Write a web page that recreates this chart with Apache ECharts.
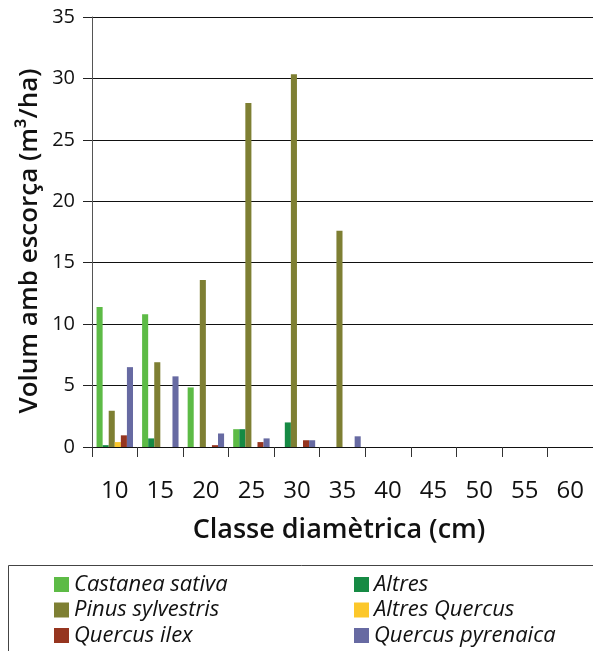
<!DOCTYPE html>
<html>
<head>
<meta charset="utf-8">
<script src="https://cdn.jsdelivr.net/npm/echarts@6/dist/echarts.min.js"></script>
<style>
html,body{margin:0;padding:0;background:#fff;}
#c{width:593px;height:651px;}
</style>
</head>
<body>
<div id="c"></div>
<script>
const categories = ['10','15','20','25','30','35','40','45','50','55','60'];
const castanea = [11.4, 10.8, 4.85, 1.45, 0, 0, 0, 0, 0, 0, 0];
const altres = [0.15, 0.7, 0, 1.45, 2.0, 0, 0, 0, 0, 0, 0];
const pinus = [2.95, 6.9, 13.6, 28.0, 30.35, 17.6, 0, 0, 0, 0, 0];
const altresQuercus = [0.4, 0, 0, 0, 0, 0, 0, 0, 0, 0, 0];
const quercusIlex = [0.95, 0, 0.15, 0.4, 0.55, 0, 0, 0, 0, 0, 0];
const quercusPyrenaica = [6.5, 5.75, 1.1, 0.7, 0.55, 0.87, 0, 0, 0, 0, 0];

const seriesNames = ['Castanea sativa','Altres','Pinus sylvestris','Altres Quercus','Quercus ilex','Quercus pyrenaica'];
const seriesData = [castanea, altres, pinus, altresQuercus, quercusIlex, quercusPyrenaica];
const colors = ['#5dbb46','#168a44','#7e7f33','#fcc72a','#96351f','#676aa2'];
const yTitle = 'Volum amb escorça (m³/ha)';
const xTitle = 'Classe diamètrica (cm)';

const FONT = '"Open Sans", "Noto Sans", sans-serif';
const chart = echarts.init(document.getElementById('c'), null, {renderer:'canvas'});

const legendText = {fontFamily: FONT, fontStyle:'italic', fontSize: 22, color:'#111', lineHeight: 22};
// legend placement: two columns, three rows (series index order: col = i%2, row = floor(i/2))
const legendCols = [54, 354];
const legendRowCenters = [584.5, 610, 635.5];
const legends = seriesNames.map((n, i) => ({
  data: [n], orient: 'horizontal',
  left: legendCols[i % 2], top: legendRowCenters[Math.floor(i / 2)] - 11,
  itemWidth: 15, itemHeight: 15, icon: 'rect', padding: 0,
  textStyle: legendText, selectedMode: false
}));

chart.setOption({
  animation: false,
  color: colors,
  grid: {left: 92, top: 17, right: -9, bottom: 204, containLabel: false},
  legend: legends,
  graphic: [
    {type:'rect', shape:{x:8.5, y:565.5, width:600, height:120}, style:{fill:'none', stroke:'#444', lineWidth:1}, silent:true},
    {type:'text', x:30, y:241, rotation: Math.PI/2, style:{text: yTitle, font: '600 26px ' + FONT, fill:'#111', align:'center', verticalAlign:'middle'}, silent:true},
    {type:'text', x:339, y:530, style:{text: xTitle, font: '600 27px ' + FONT, fill:'#111', align:'center', verticalAlign:'middle'}, silent:true}
  ],
  xAxis: {
    type:'category', data: categories,
    axisLine:{show:true, lineStyle:{color:'#111', width:1}},
    axisTick:{show:true, length:10, lineStyle:{color:'#333'}},
    axisLabel:{fontFamily: FONT, fontSize: 24, color:'#111', margin: 32}
  },
  yAxis: {
    type:'value', min:0, max:35, interval:5,
    axisLine:{show:true, lineStyle:{color:'#555', width:1}},
    axisTick:{show:true, length:9, lineStyle:{color:'#222'}},
    axisLabel:{fontFamily: FONT, fontSize: 20, color:'#111', margin: 17},
    splitLine:{show:true, lineStyle:{color:'#111', width:1}}
  },
  series: seriesNames.map((n,i)=>({
    name:n, type:'bar', data: seriesData[i], barGap:'0%', barCategoryGap:'20%',
    itemStyle:{color: colors[i]}
  }))
});
</script>
</body>
</html>
